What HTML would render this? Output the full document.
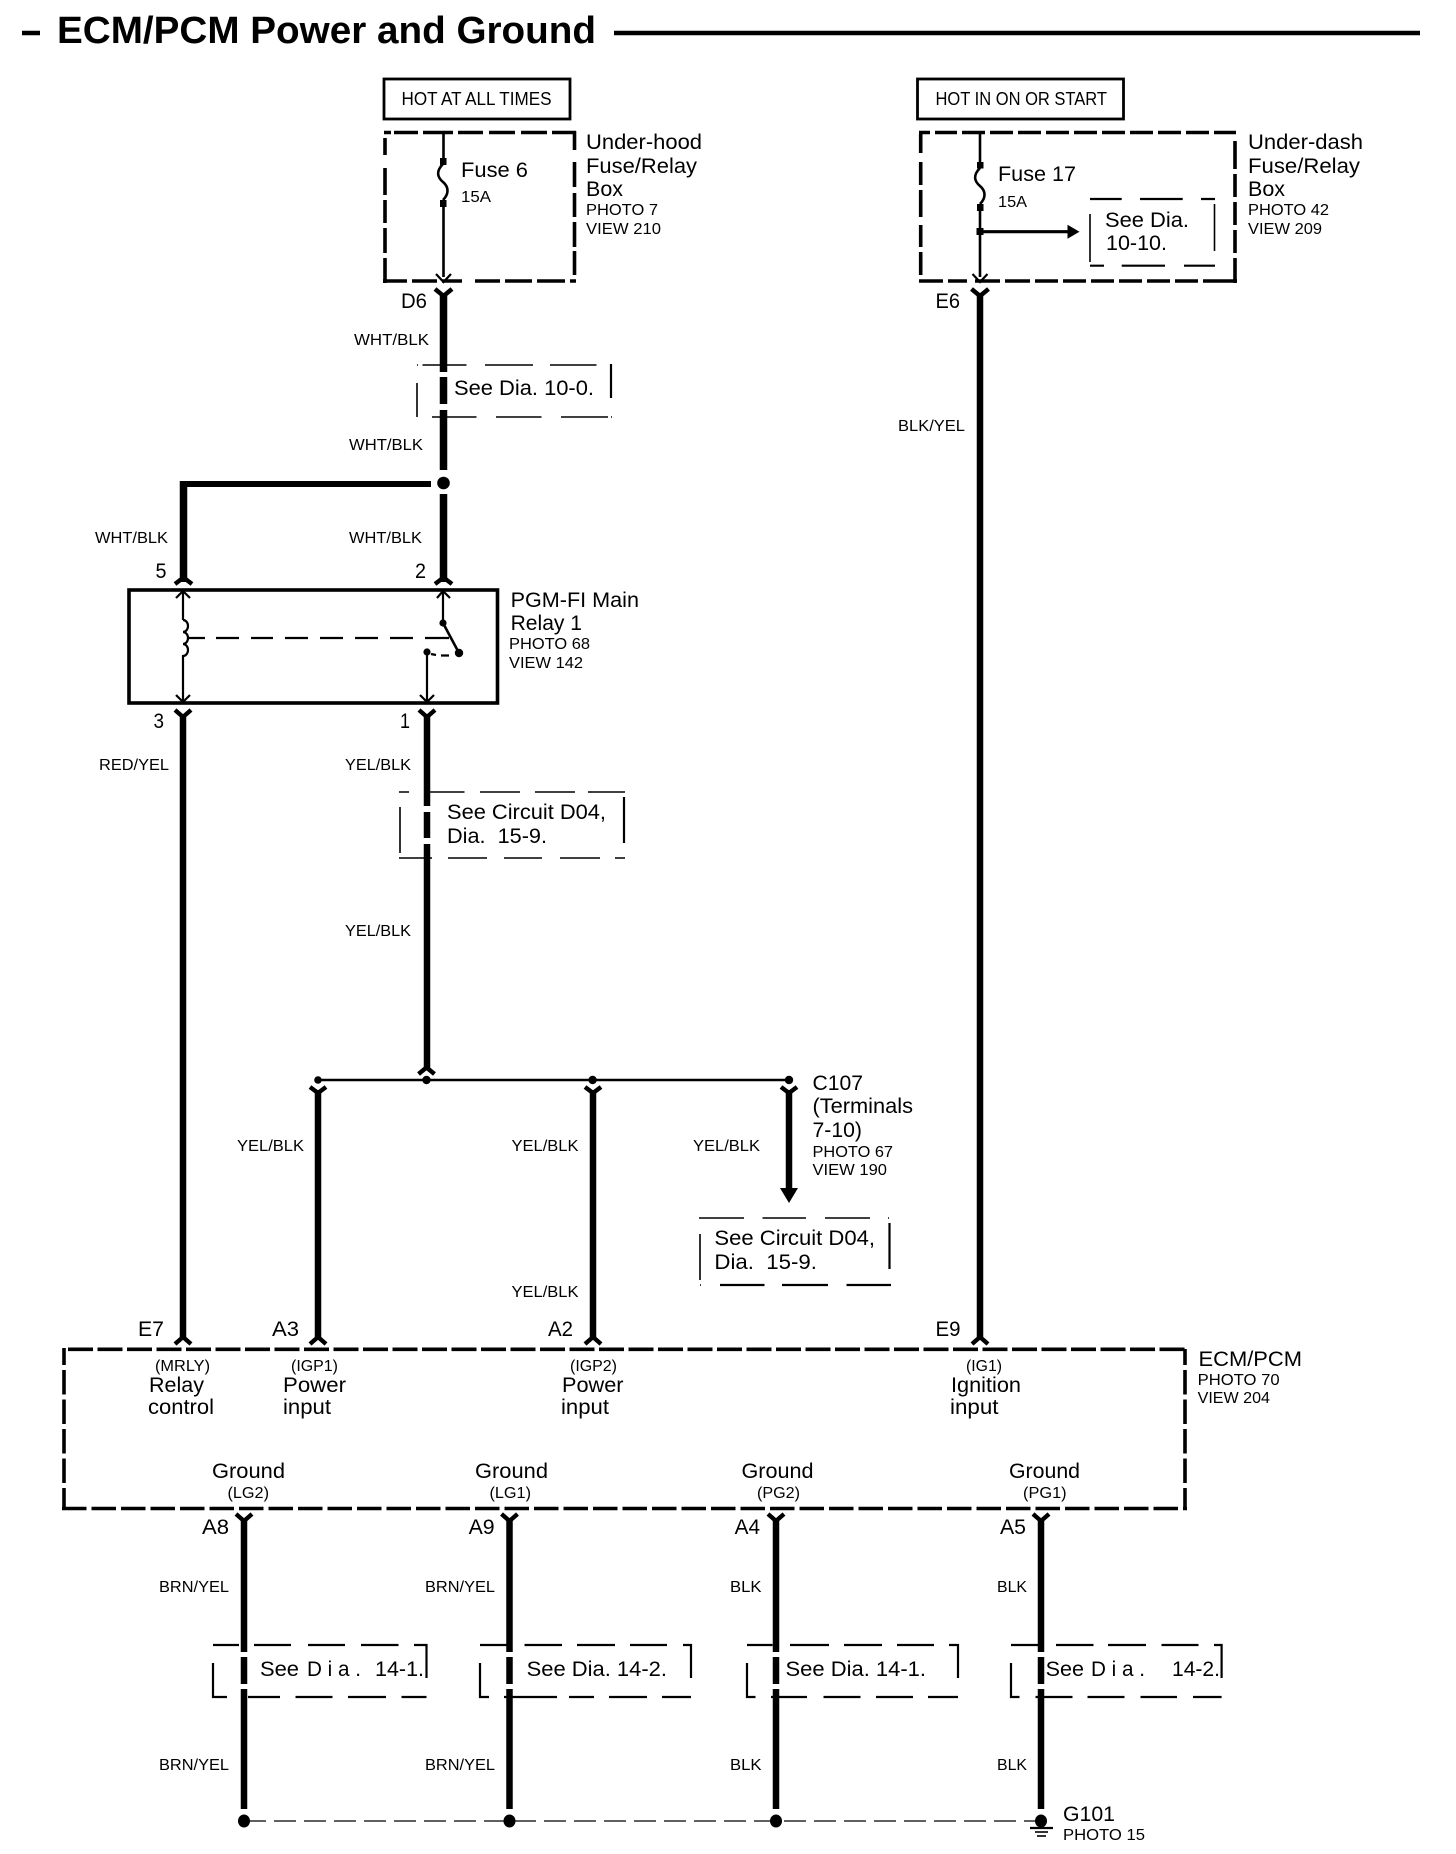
<!DOCTYPE html>
<html><head><meta charset="utf-8"><style>
html,body{margin:0;padding:0;background:#fff}
svg{display:block}
text{font-family:"Liberation Sans",Arial,sans-serif;fill:#000}
.s{font-size:16px}.m{font-size:21px}
.w{fill:none;stroke:#000;stroke-width:6.5}
.W{fill:none;stroke:#000;stroke-width:7.5}
.t{fill:none;stroke:#000;stroke-width:1.6}
.d{fill:none;stroke:#000;stroke-width:2.2}
.e{fill:none;stroke:#000;stroke-width:2.6}
.c{fill:none;stroke:#000;stroke-width:4.4}
.b{fill:none;stroke:#000;stroke-width:3.6}
</style></head><body>
<svg width="1456" height="1854" viewBox="0 0 1456 1854" xmlns="http://www.w3.org/2000/svg">
<rect width="1456" height="1854" fill="#fff"/>
<!-- title -->
<path d="M22 33H40M614 33H1420" stroke="#000" stroke-width="4.400" fill="none"/>
<text x="57" y="43" font-size="38" font-weight="bold" textLength="539" lengthAdjust="spacingAndGlyphs">ECM/PCM Power and Ground</text>

<!-- HOT boxes -->
<rect x="384" y="79" width="186" height="40" fill="none" stroke="#000" stroke-width="2.800"/>
<text x="401.500" y="105" font-size="18" textLength="150" lengthAdjust="spacingAndGlyphs">HOT AT ALL TIMES</text>
<rect x="917.500" y="79" width="206" height="40" fill="none" stroke="#000" stroke-width="2.800"/>
<text x="935.500" y="105" font-size="18" textLength="171.500" lengthAdjust="spacingAndGlyphs">HOT IN ON OR START</text>

<!-- Fuse box left -->
<path class="b" d="M384 132.500H391M394 132.500H418M423 132.500H453M458 132.500H483M489 132.500H515M521 132.500H547M552 132.500H576"/>
<path class="b" d="M574.500 131V150M574.500 162V187M574.500 193V217M574.500 222V247M574.500 251V275"/>
<path class="b" d="M385 138V155M385 168V195M385 200V223M385 228V253M385 258V283"/>
<path class="b" d="M383 281H407M412 281H437M442 281H462M475 281H500M505 281H532M537 281H565M570 281H576"/>
<path class="e" d="M443.500 133V160M443.500 204V277"/>
<path class="e" d="M443 164C436 171 437 177 443 182C449 187 449 194 443 200"/>
<rect x="440" y="158" width="6.500" height="7"/><rect x="440" y="200" width="6.500" height="7"/>
<path class="d" d="M436 274L443.500 282L451 274"/>
<text class="m" x="461" y="177" textLength="67" lengthAdjust="spacingAndGlyphs">Fuse 6</text>
<text class="s" x="461" y="202" textLength="30" lengthAdjust="spacingAndGlyphs">15A</text>
<text class="m" x="586" y="149" textLength="116" lengthAdjust="spacingAndGlyphs">Under-hood</text>
<text class="m" x="586" y="173" textLength="111" lengthAdjust="spacingAndGlyphs">Fuse/Relay</text>
<text class="m" x="586" y="196" textLength="37" lengthAdjust="spacingAndGlyphs">Box</text>
<text class="s" x="586" y="215" textLength="72" lengthAdjust="spacingAndGlyphs">PHOTO 7</text>
<text class="s" x="586" y="234" textLength="75" lengthAdjust="spacingAndGlyphs">VIEW 210</text>

<!-- D6 wire -->
<path class="c" d="M435 289L443.500 296L452 289"/>
<path class="W" d="M443.500 294V372M443.500 377V404M443.500 410V470M443.500 494V582"/>
<circle cx="443.500" cy="483" r="6.300"/>
<text class="m" x="401" y="308" textLength="26" lengthAdjust="spacingAndGlyphs">D6</text>
<text class="s" x="354" y="345" textLength="75" lengthAdjust="spacingAndGlyphs">WHT/BLK</text>
<text class="s" x="349" y="450" textLength="74" lengthAdjust="spacingAndGlyphs">WHT/BLK</text>
<!-- See Dia 10-0 -->
<path class="t" d="M417 365H418M422.500 365H466.500M485 365H533M550 365H596.500M432 417H476.500M496 417H541.500M561 417H608M611 417H612M417 383V417"/>
<path class="d" d="M611 364V398"/>
<text class="m" x="454" y="395" textLength="140" lengthAdjust="spacingAndGlyphs">See Dia. 10-0.</text>

<!-- branch to 5 -->
<path d="M431 484H180" stroke="#000" stroke-width="6" fill="none"/>
<path class="W" d="M183.500 481V582"/>
<path class="c" d="M175 584L183.500 577.500L192 584"/>
<path class="c" d="M435 584L443.500 577.500L452 584"/>
<text class="s" x="95" y="543" textLength="73" lengthAdjust="spacingAndGlyphs">WHT/BLK</text>
<text class="s" x="349" y="543" textLength="73" lengthAdjust="spacingAndGlyphs">WHT/BLK</text>
<text class="m" x="155.500" y="578" textLength="11" lengthAdjust="spacingAndGlyphs">5</text>
<text class="m" x="415" y="578" textLength="11" lengthAdjust="spacingAndGlyphs">2</text>

<!-- Relay -->
<rect x="129" y="590" width="368.500" height="113" fill="none" stroke="#000" stroke-width="3.600"/>
<path class="d" d="M183 590V620M183 655V703M443 591V622M427 652V703"/>
<path class="d" d="M176 598L183 591L190 598M437 598L443 591L450 598M176 695L183 702L190 695M420 695L427 702L434 695"/>
<path class="d" d="M183 620a5 6 0 0 1 0 12a5 6 0 0 1 0 12a5 6 0 0 1 0 12"/>
<path class="d" d="M187 638H205M216 638H239M251 638H273M285 638H308M320 638H343M355 638H378M390 638H413M425 638H449"/>
<path class="e" d="M443 623L459 653"/>
<circle cx="443" cy="623" r="3.600"/><circle cx="459" cy="653" r="4.200"/><circle cx="427" cy="652" r="3.600"/>
<path class="d" d="M431 654L436 655M441 655.500H449"/>
<text class="m" x="510.600" y="607" textLength="128.400" lengthAdjust="spacingAndGlyphs">PGM-FI Main</text>
<text class="m" x="510.600" y="630" textLength="71.400" lengthAdjust="spacingAndGlyphs">Relay 1</text>
<text class="s" x="509" y="649" textLength="81" lengthAdjust="spacingAndGlyphs">PHOTO 68</text>
<text class="s" x="509" y="668" textLength="74" lengthAdjust="spacingAndGlyphs">VIEW 142</text>

<text class="m" x="153.500" y="728" textLength="10.500" lengthAdjust="spacingAndGlyphs">3</text>
<text class="m" x="400" y="728" textLength="10" lengthAdjust="spacingAndGlyphs">1</text>
<path class="c" d="M175 710L183 717L191 710M419 710L427 717L435 710"/>
<path class="w" d="M183 714V1337M427 714V806M427 812V838M427 844V1070"/>
<text class="s" x="99" y="770" textLength="70" lengthAdjust="spacingAndGlyphs">RED/YEL</text>
<text class="s" x="345" y="770" textLength="66" lengthAdjust="spacingAndGlyphs">YEL/BLK</text>
<!-- See circuit box 1 -->
<path class="t" d="M399 792H409M430 792H464.500M480 792H520M535 792H575M588 792H625M399 858H432M448 858H487M504 858H542M560 858H600M615 858H625M400 807V853"/>
<path class="d" d="M624 797V843"/>
<text class="m" x="447" y="819" textLength="159" lengthAdjust="spacingAndGlyphs">See Circuit D04,</text>
<text class="m" x="447" y="843" textLength="100" lengthAdjust="spacingAndGlyphs" xml:space="preserve">Dia.  15-9.</text>
<text class="s" x="345" y="936" textLength="66" lengthAdjust="spacingAndGlyphs">YEL/BLK</text>

<!-- C107 bus -->
<path class="c" d="M418.500 1074L426.500 1067.500L434.500 1074"/>
<path d="M318 1080H789" stroke="#000" stroke-width="2.600" fill="none"/>
<circle cx="318" cy="1080" r="3.800"/><circle cx="426.500" cy="1080" r="4.200"/><circle cx="592.600" cy="1080" r="4.200"/><circle cx="789" cy="1080" r="4.200"/>
<path class="c" d="M310 1087L318 1093L326 1087M585 1087L593 1093L601 1087M781 1087L789 1093L797 1087"/>
<path class="w" d="M318 1090V1337M593 1090V1337M789 1090V1190"/>
<path d="M780 1188H798L789 1203Z"/>
<text class="s" x="237" y="1151" textLength="67" lengthAdjust="spacingAndGlyphs">YEL/BLK</text>
<text class="s" x="511.500" y="1151" textLength="67" lengthAdjust="spacingAndGlyphs">YEL/BLK</text>
<text class="s" x="693" y="1151" textLength="67" lengthAdjust="spacingAndGlyphs">YEL/BLK</text>
<text class="s" x="511.500" y="1297" textLength="67" lengthAdjust="spacingAndGlyphs">YEL/BLK</text>
<text class="m" x="812.500" y="1090" textLength="50.500" lengthAdjust="spacingAndGlyphs">C107</text>
<text class="m" x="812.500" y="1113" textLength="100.500" lengthAdjust="spacingAndGlyphs">(Terminals</text>
<text class="m" x="812.500" y="1137" textLength="49.500" lengthAdjust="spacingAndGlyphs">7-10)</text>
<text class="s" x="812.500" y="1157" textLength="80.500" lengthAdjust="spacingAndGlyphs">PHOTO 67</text>
<text class="s" x="812.500" y="1175" textLength="74.500" lengthAdjust="spacingAndGlyphs">VIEW 190</text>
<!-- See circuit box 2 -->
<path class="t" d="M699 1218H744M762.500 1218H806M825 1218H870M888 1218H889M700 1234V1280M700 1285H701"/>
<path class="d" d="M720 1285H764.500M782 1285H828M846.500 1285H891M889.500 1223V1269"/>
<text class="m" x="714.400" y="1245" textLength="160.600" lengthAdjust="spacingAndGlyphs">See Circuit D04,</text>
<text class="m" x="714.400" y="1269" textLength="102.600" lengthAdjust="spacingAndGlyphs" xml:space="preserve">Dia.  15-9.</text>

<!-- Right fuse box -->
<path class="b" d="M919 132.500H930M935 132.500H957M962 132.500H985M990 132.500H1013M1018 132.500H1041M1046 132.500H1069M1074 132.500H1097M1102 132.500H1125M1130 132.500H1153M1158 132.500H1181M1186 132.500H1209M1214 132.500H1236"/>
<path class="b" d="M1235 141V169M1235 174V197M1235 202V225M1235 230V253M1235 258V283"/>
<path class="b" d="M920.700 134V153M920.700 162V185M920.700 190V217M920.700 225V247M920.700 252V275"/>
<path class="b" d="M919 281H943M948 281H967M975 281H1000M1005 281H1030M1035 281H1058M1063 281H1086M1091 281H1114M1119 281H1142M1147 281H1170M1175 281H1198M1203 281H1237"/>
<path class="e" d="M980 133V162M980 211V277"/>
<path class="e" d="M980 168C973 175 974 181 980 186C986 191 986 198 980 204"/>
<rect x="977" y="162" width="6.500" height="6.500"/><rect x="977" y="204" width="6.500" height="7"/>
<rect x="976.500" y="228" width="7" height="7"/>
<path d="M980 231.700H1069" stroke="#000" stroke-width="3.200" fill="none"/>
<path d="M1067.500 224.700L1079.500 231.700L1067.500 238.700Z"/>
<path class="d" d="M972.500 274L980 282L987.500 274"/>
<text class="m" x="998" y="181" textLength="78" lengthAdjust="spacingAndGlyphs">Fuse 17</text>
<text class="s" x="998" y="207" textLength="29" lengthAdjust="spacingAndGlyphs">15A</text>
<path class="d" d="M1090 199H1121.700M1140 199H1182.700M1201 199H1215M1090 265.700H1104M1121.700 265.700H1165M1184 265.700H1215"/>
<path class="t" d="M1090 214V262M1214.500 204V251"/>
<text class="m" x="1105" y="227" textLength="84" lengthAdjust="spacingAndGlyphs">See Dia.</text>
<text class="m" x="1106" y="250" textLength="61" lengthAdjust="spacingAndGlyphs">10-10.</text>
<text class="m" x="1248" y="149" textLength="115" lengthAdjust="spacingAndGlyphs">Under-dash</text>
<text class="m" x="1248" y="173" textLength="112" lengthAdjust="spacingAndGlyphs">Fuse/Relay</text>
<text class="m" x="1248" y="196" textLength="37" lengthAdjust="spacingAndGlyphs">Box</text>
<text class="s" x="1248" y="215" textLength="81" lengthAdjust="spacingAndGlyphs">PHOTO 42</text>
<text class="s" x="1248" y="234" textLength="74" lengthAdjust="spacingAndGlyphs">VIEW 209</text>
<text class="m" x="935.500" y="308" textLength="24.500" lengthAdjust="spacingAndGlyphs">E6</text>
<path class="c" d="M971.500 289L980 296L988.500 289"/>
<path class="w" d="M980 294V1337"/>
<text class="s" x="898" y="431" textLength="67" lengthAdjust="spacingAndGlyphs">BLK/YEL</text>

<!-- ECM -->
<text class="m" x="138" y="1336" textLength="26" lengthAdjust="spacingAndGlyphs">E7</text>
<text class="m" x="272" y="1336" textLength="27" lengthAdjust="spacingAndGlyphs">A3</text>
<text class="m" x="548" y="1336" textLength="25" lengthAdjust="spacingAndGlyphs">A2</text>
<text class="m" x="935.500" y="1336" textLength="25" lengthAdjust="spacingAndGlyphs">E9</text>
<path class="c" d="M175 1344L183 1337L191 1344M310 1344L318 1337L326 1344M585 1344L593 1337L601 1344M972 1344L980 1337L988 1344"/>
<path class="b" stroke-dasharray="25 4.500" d="M68 1349.300H1187"/>
<path class="b" stroke-dasharray="24.500 5" stroke-dashoffset="7.500" d="M64 1348V1510"/>
<path class="b" stroke-dasharray="24.500 5" d="M62 1508.500H1187"/>
<path class="b" stroke-dasharray="24.500 5" stroke-dashoffset="8.500" d="M1185 1349V1510"/>
<text class="s" x="155" y="1371" textLength="55" lengthAdjust="spacingAndGlyphs">(MRLY)</text>
<text class="m" x="149" y="1392" textLength="55" lengthAdjust="spacingAndGlyphs">Relay</text>
<text class="m" x="148" y="1414" textLength="66" lengthAdjust="spacingAndGlyphs">control</text>
<text class="s" x="291" y="1371" textLength="47" lengthAdjust="spacingAndGlyphs">(IGP1)</text>
<text class="m" x="283" y="1392" textLength="63" lengthAdjust="spacingAndGlyphs">Power</text>
<text class="m" x="283" y="1414" textLength="48" lengthAdjust="spacingAndGlyphs">input</text>
<text class="s" x="570" y="1371" textLength="47" lengthAdjust="spacingAndGlyphs">(IGP2)</text>
<text class="m" x="562" y="1392" textLength="61.500" lengthAdjust="spacingAndGlyphs">Power</text>
<text class="m" x="561" y="1414" textLength="48" lengthAdjust="spacingAndGlyphs">input</text>
<text class="s" x="966" y="1371" textLength="36" lengthAdjust="spacingAndGlyphs">(IG1)</text>
<text class="m" x="951" y="1392" textLength="70" lengthAdjust="spacingAndGlyphs">Ignition</text>
<text class="m" x="950" y="1414" textLength="48.500" lengthAdjust="spacingAndGlyphs">input</text>
<text class="m" x="212" y="1478" textLength="73" lengthAdjust="spacingAndGlyphs">Ground</text>
<text class="s" x="227.500" y="1498" textLength="41.500" lengthAdjust="spacingAndGlyphs">(LG2)</text>
<text class="m" x="475" y="1478" textLength="73" lengthAdjust="spacingAndGlyphs">Ground</text>
<text class="s" x="489.500" y="1498" textLength="41.500" lengthAdjust="spacingAndGlyphs">(LG1)</text>
<text class="m" x="741.500" y="1478" textLength="72" lengthAdjust="spacingAndGlyphs">Ground</text>
<text class="s" x="757" y="1498" textLength="43" lengthAdjust="spacingAndGlyphs">(PG2)</text>
<text class="m" x="1009" y="1478" textLength="71" lengthAdjust="spacingAndGlyphs">Ground</text>
<text class="s" x="1023" y="1498" textLength="43.600" lengthAdjust="spacingAndGlyphs">(PG1)</text>
<text class="m" x="1198.500" y="1366" textLength="103.500" lengthAdjust="spacingAndGlyphs">ECM/PCM</text>
<text class="s" x="1197.600" y="1385" textLength="82" lengthAdjust="spacingAndGlyphs">PHOTO 70</text>
<text class="s" x="1197.600" y="1403" textLength="72.400" lengthAdjust="spacingAndGlyphs">VIEW 204</text>

<!-- ground wires -->
<path class="c" d="M236 1514L244 1521L252 1514M501.500 1514L509.500 1521L517.500 1514M768 1514L776 1521L784 1514M1033 1514L1041 1521L1049 1514"/>
<path class="w" d="M244 1518V1652M244 1657V1684M244 1689V1809M509.500 1518V1652M509.500 1657V1684M509.500 1689V1809M776 1518V1652M776 1657V1684M776 1689V1809M1041 1518V1652M1041 1657V1684M1041 1689V1809"/>
<text class="m" x="202" y="1534" textLength="27" lengthAdjust="spacingAndGlyphs">A8</text>
<text class="m" x="468.600" y="1534" textLength="26" lengthAdjust="spacingAndGlyphs">A9</text>
<text class="m" x="734.600" y="1534" textLength="25.400" lengthAdjust="spacingAndGlyphs">A4</text>
<text class="m" x="1000" y="1534" textLength="26" lengthAdjust="spacingAndGlyphs">A5</text>
<text class="s" x="159" y="1592" textLength="70" lengthAdjust="spacingAndGlyphs">BRN/YEL</text>
<text class="s" x="425" y="1592" textLength="70" lengthAdjust="spacingAndGlyphs">BRN/YEL</text>
<text class="s" x="730" y="1592" textLength="31.500" lengthAdjust="spacingAndGlyphs">BLK</text>
<text class="s" x="997" y="1592" textLength="30" lengthAdjust="spacingAndGlyphs">BLK</text>
<text class="s" x="159" y="1770" textLength="70" lengthAdjust="spacingAndGlyphs">BRN/YEL</text>
<text class="s" x="425" y="1770" textLength="70" lengthAdjust="spacingAndGlyphs">BRN/YEL</text>
<text class="s" x="730" y="1770" textLength="31.500" lengthAdjust="spacingAndGlyphs">BLK</text>
<text class="s" x="997" y="1770" textLength="30" lengthAdjust="spacingAndGlyphs">BLK</text>

<!-- See Dia boxes bottom -->
<path class="d" d="M213 1645H239M254 1645H291M308 1645H345M361 1645H398.500M414 1645H426.500V1678M213 1663V1697H227M248 1697H280M295.500 1697H332.500M348 1697H386M401.500 1697H426.500"/>
<text class="m" x="260" y="1676" textLength="39" lengthAdjust="spacingAndGlyphs">See</text>
<text class="m" x="307" y="1676" textLength="54" lengthAdjust="spacingAndGlyphs">D i a .</text>
<text class="m" x="375" y="1676" textLength="49" lengthAdjust="spacingAndGlyphs">14-1.</text>

<path class="d" d="M480 1645H506.500M524.500 1645H562M577 1645H615M630 1645H667M683 1645H691V1678M480 1663V1697H489M504 1697H557M569 1697H594M609 1697H647M662 1697H691"/>
<text class="m" x="526.600" y="1676" textLength="140.400" lengthAdjust="spacingAndGlyphs">See Dia. 14-2.</text>

<path class="d" d="M747 1645H772.500M790 1645H829M844 1645H882M897 1645H934M949 1645H958V1678M747 1663V1697H755.500M771 1697H807M823.500 1697H860.500M876 1697H913M928 1697H958"/>
<text class="m" x="785.500" y="1676" textLength="140.500" lengthAdjust="spacingAndGlyphs">See Dia. 14-1.</text>

<path class="d" d="M1011 1645H1038M1056 1645H1093.500M1108 1645H1146M1161.500 1645H1198.500M1214 1645H1221.600V1678M1011 1663V1697H1019.500M1035.500 1697H1072.500M1087.500 1697H1124.500M1140.500 1697H1177M1193 1697H1221.600"/>
<text class="m" x="1045.700" y="1676" textLength="38.300" lengthAdjust="spacingAndGlyphs">See</text>
<text class="m" x="1091" y="1676" textLength="54" lengthAdjust="spacingAndGlyphs">D i a .</text>
<text class="m" x="1172" y="1676" textLength="48" lengthAdjust="spacingAndGlyphs">14-2.</text>

<!-- ground bus -->
<path d="M244 1821H1041" fill="none" stroke="#000" stroke-width="1.300" stroke-dasharray="22 8"/>
<ellipse cx="244" cy="1821" rx="6" ry="6.500"/><ellipse cx="509.500" cy="1821" rx="6" ry="6.500"/><ellipse cx="776" cy="1821" rx="6" ry="6.500"/><ellipse cx="1041" cy="1821" rx="6" ry="6.500"/>
<path d="M1030 1828H1053" stroke="#000" stroke-width="2.200"/>
<path d="M1035 1832H1048" stroke="#000" stroke-width="1.600"/>
<path d="M1037 1836H1046" stroke="#000" stroke-width="1.600"/>
<text class="m" x="1063" y="1821" textLength="52" lengthAdjust="spacingAndGlyphs">G101</text>
<text class="s" x="1063" y="1840" textLength="82" lengthAdjust="spacingAndGlyphs">PHOTO 15</text>
</svg>
</body></html>
